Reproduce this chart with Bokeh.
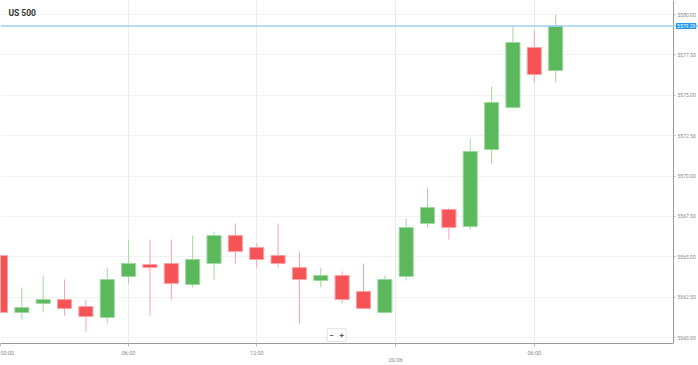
from bokeh.plotting import figure
from bokeh.models import (ColumnDataSource, FixedTicker, PrintfTickFormatter, Span, Label,
                          LinearAxis, Range1d, BoxAnnotation)
from bokeh.embed import file_html
from bokeh.resources import INLINE

# ---- data (hourly candles, index based) ----
idx = list(range(27))
opens  = [5565.08, 5561.55, 5562.11, 5562.35, 5561.92, 5561.24, 5563.78, 5564.52, 5564.58,
          5563.28, 5564.58, 5566.32, 5565.57, 5565.08, 5564.33, 5563.53, 5563.84, 5562.85,
          5561.55, 5563.78, 5567.06, 5567.93, 5566.87, 5571.64, 5574.24, 5577.96, 5576.53]
highs  = [5565.08, 5563.10, 5563.84, 5563.59, 5562.35, 5564.33, 5566.07, 5566.07, 5566.07,
          5566.32, 5566.56, 5567.06, 5565.82, 5567.06, 5565.33, 5564.33, 5564.09, 5564.58,
          5563.84, 5567.37, 5569.29, 5568.05, 5572.32, 5575.54, 5579.26, 5579.01, 5580.00]
lows   = [5561.55, 5561.11, 5561.55, 5561.36, 5560.37, 5560.87, 5563.34, 5561.36, 5562.35,
          5563.10, 5563.59, 5564.58, 5564.33, 5564.33, 5560.87, 5563.10, 5562.11, 5561.80,
          5561.55, 5563.53, 5566.81, 5566.07, 5566.69, 5570.77, 5574.24, 5575.79, 5575.79]
closes = [5561.55, 5561.86, 5562.35, 5561.80, 5561.30, 5563.59, 5564.58, 5564.33, 5563.34,
          5564.83, 5566.32, 5565.33, 5564.83, 5564.58, 5563.59, 5563.84, 5562.35, 5561.80,
          5563.59, 5566.81, 5568.05, 5566.81, 5571.52, 5574.55, 5578.27, 5576.28, 5579.29]
current_price = 5579.29
y_ticks = [5560.0, 5562.5, 5565.0, 5567.5, 5570.0, 5572.5, 5575.0, 5577.5, 5580.0]
x_tick_pos = [0, 6, 12, 18.5, 25]
x_tick_labels = ["00:00", "06:00", "12:00", "\n20/06", "06:00"]
title_text = "US 500"

GREEN, GREEN_L = "#5cb85c", "#9fd89f"
RED, RED_L = "#f65357", "#fba3a5"

X_END = 31.52      # right edge of the chart area (price axis position)
up = [c >= o for o, c in zip(opens, closes)]
src = ColumnDataSource(dict(
    x=idx, high=highs, low=lows,
    top=[max(o, c) for o, c in zip(opens, closes)],
    bottom=[min(o, c) for o, c in zip(opens, closes)],
    fill=[GREEN if u else RED for u in up],
    edge=[GREEN_L if u else RED_L for u in up],
))

p = figure(width=698, height=365, output_backend="svg", toolbar_location=None,
           x_range=Range1d(0, 32.69), y_range=Range1d(5559.63, 5580.87),
           x_axis_location=None, y_axis_location=None,
           min_border_left=0, min_border_top=0, min_border_right=0, min_border_bottom=22)
p.background_fill_color = "white"
p.border_fill_color = "white"
p.outline_line_color = None

p.xgrid.ticker = FixedTicker(ticks=x_tick_pos)
p.ygrid.ticker = FixedTicker(ticks=y_ticks)
p.xgrid.grid_line_color = "#ebebeb"
p.ygrid.grid_line_color = "#f2f2f2"
# keep the price-scale strip clean of grid lines
p.add_layout(BoxAnnotation(left=X_END, fill_color="white", fill_alpha=1.0,
                           line_color=None, level="underlay"))

# axes
ya = LinearAxis(ticker=FixedTicker(ticks=y_ticks), formatter=PrintfTickFormatter(format="%.2f"),
                fixed_location=X_END)
ya.axis_line_color = "#9a9a9a"
ya.major_tick_line_color = "#bbbbbb"
ya.major_tick_out = 2
ya.major_tick_in = 0
ya.minor_tick_line_color = None
ya.major_label_standoff = 2
ya.major_label_text_font = "Roboto"
ya.major_label_text_font_size = "5px"
ya.major_label_text_color = "#8a8a8a"
p.add_layout(ya, "right")

xa = LinearAxis(ticker=FixedTicker(ticks=x_tick_pos), bounds=(0, X_END))
xa.major_label_overrides = {k: v for k, v in zip(x_tick_pos, x_tick_labels)}
xa.axis_line_color = "#9a9a9a"
xa.major_tick_line_color = "#bbbbbb"
xa.major_tick_out = 3
xa.major_tick_in = 0
xa.minor_tick_line_color = None
xa.major_label_standoff = 3
xa.major_label_text_font = "Roboto"
xa.major_label_text_font_size = "5.5px"
xa.major_label_text_color = "#8a8a8a"
p.add_layout(xa, "below")

# candles
p.segment(x0="x", y0="low", x1="x", y1="high", source=src, line_color="edge", line_width=1)
p.vbar(x="x", width=0.66, top="top", bottom="bottom", source=src,
       fill_color="fill", line_color="edge", line_width=1)

# current price line & tag
p.add_layout(Span(location=current_price, dimension="width", line_color="#9fd0f5", line_width=1.5))
p.add_layout(Label(x=X_END + 0.12, y=current_price, text=f"{current_price:.2f}",
                   text_color="white", text_font="Roboto", text_font_size="5px",
                   text_baseline="middle", background_fill_color="#2196f3", padding=1))

# title
p.add_layout(Label(x=0.37, y=5580.12, text=title_text, text_font="Roboto", text_font_style="bold",
                   text_font_size="8.5px", text_color="#333333", text_baseline="middle"))

# zoom buttons
p.add_layout(Label(x=15.74, y=5560.15, text="\u2212\u00a0\u00a0\u00a0+", text_font="Roboto",
                   text_font_style="bold", text_font_size="8px", text_color="#555555",
                   text_align="center", text_baseline="middle", background_fill_color="white",
                   border_line_color="#e3e3e3", padding=2))

open("out.html", "w").write(file_html(p, INLINE))
